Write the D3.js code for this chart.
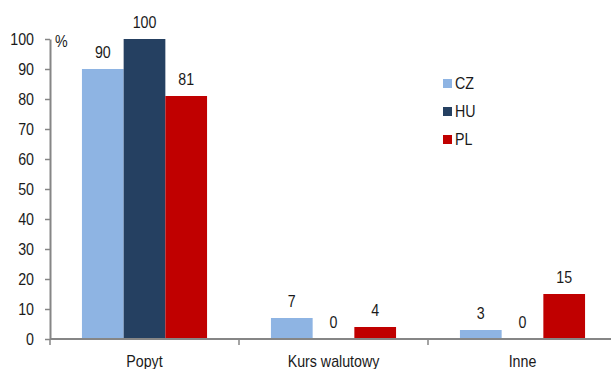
<!DOCTYPE html>
<html>
<head>
<meta charset="utf-8">
<script src="https://cdn.jsdelivr.net/npm/d3@7"></script>
<style>
  html, body { margin: 0; padding: 0; background: #fff; }
  svg { display: block; }
  text { font-family: "Liberation Sans", Arial, sans-serif; fill: #1a1a1a; font-size: 16px; }
</style>
</head>
<body>
<svg id="chart" width="611" height="369"></svg>
<script>
// Czynniki wpływające na inflację – udział odpowiedzi (%)
const categories = ["Popyt", "Kurs walutowy", "Inne"];
const seriesNames = ["CZ", "HU", "PL"];
const seriesColors = ["#8EB4E3", "#254061", "#C00000"];
const valuesCZ = [90, 7, 3];
const valuesHU = [100, 0, 0];
const valuesPL = [81, 4, 15];
const yTicks = [0, 10, 20, 30, 40, 50, 60, 70, 80, 90, 100];

const seriesValues = [valuesCZ, valuesHU, valuesPL];

const svg = d3.select("#chart");
const axisColor = "#868686";
const narrow = 0.89; // horizontal squeeze for a narrow sans look

// place a condensed text label at (x, y)
function label(parent, x, y, str, anchor) {
  return parent.append("text")
    .attr("transform", `translate(${x},${y}) scale(${narrow},1)`)
    .attr("text-anchor", anchor || "start")
    .text(str);
}

const x0 = d3.scaleBand().domain(categories).range([50, 617]).paddingInner(0).paddingOuter(0);
const x1 = d3.scaleBand().domain(seriesNames).range([0, x0.bandwidth()])
  .paddingInner(0).paddingOuter(0.766);
const y = d3.scaleLinear().domain([0, 100]).range([339, 39]);

// Y axis
const yAxis = svg.append("g").attr("transform", "translate(50,0)")
  .call(d3.axisLeft(y).tickValues(yTicks).tickSize(5).tickPadding(16).tickSizeOuter(0));
yAxis.select(".domain").attr("stroke", axisColor).attr("stroke-width", 2);
yAxis.selectAll(".tick line").attr("stroke", axisColor).attr("stroke-width", 1.5);
yAxis.selectAll(".tick text")
  .attr("fill", "#1a1a1a")
  .style("font-size", "16px")
  .style("font-family", "'Liberation Sans', Arial, sans-serif")
  .attr("x", null)
  .attr("dy", null)
  .attr("transform", `translate(-16,5.5) scale(${narrow},1)`);

label(svg, 55, 47, "%");

// Bars with value labels
const groups = svg.append("g").selectAll("g").data(categories).join("g")
  .attr("transform", d => `translate(${x0(d)},0)`);

groups.each(function(cat, ci) {
  const g = d3.select(this);
  seriesNames.forEach((s, si) => {
    const v = seriesValues[si][ci];
    g.append("rect")
      .attr("x", x1(s))
      .attr("y", y(v))
      .attr("width", x1.bandwidth())
      .attr("height", y(0) - y(v))
      .attr("fill", seriesColors[si]);
    label(g, x1(s) + x1.bandwidth() / 2, y(v) - 11, v, "middle");
  });
});

// X axis
const xAxis = svg.append("g").attr("transform", `translate(0,${y(0)})`);
xAxis.append("line").attr("x1", 50).attr("x2", 611).attr("stroke", axisColor).attr("stroke-width", 2);
xAxis.selectAll("line.tk").data(categories).join("line").attr("class", "tk")
  .attr("x1", d => x0(d)).attr("x2", d => x0(d)).attr("y1", 0).attr("y2", 6)
  .attr("stroke", axisColor).attr("stroke-width", 1.5);
categories.forEach(c => label(xAxis, x0(c) + x0.bandwidth() / 2, 28, c, "middle"));

// Legend
const legend = svg.append("g").attr("transform", "translate(443,79)");
seriesNames.forEach((s, i) => {
  legend.append("rect").attr("x", 0).attr("y", i * 28).attr("width", 9).attr("height", 9)
    .attr("fill", seriesColors[i]);
  label(legend, 12, i * 28 + 10, s);
});
</script>
</body>
</html>
